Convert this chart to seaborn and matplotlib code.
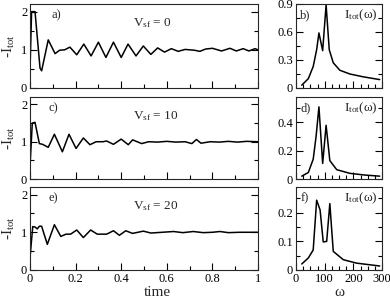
import matplotlib
matplotlib.use("Agg")
import matplotlib.pyplot as plt
from matplotlib.ticker import MultipleLocator
import pandas as pd
import seaborn as sns

# ---- time traces (-I_tot vs time) ----
t_a = [0, 0.007, 0.022, 0.044, 0.051, 0.08, 0.11, 0.13, 0.152, 0.175, 0.205, 0.236,
       0.268, 0.30, 0.333, 0.366, 0.40, 0.43, 0.465, 0.497, 0.53, 0.56, 0.59, 0.62,
       0.65, 0.68, 0.72, 0.745, 0.77, 0.80, 0.84, 0.877, 0.905, 0.935, 0.96, 0.987, 1.0]
i_a = [0.47, 2.0, 2.0, 0.52, 0.45, 1.26, 0.9, 0.99, 1.0, 1.07, 0.87, 1.15,
       0.84, 1.2, 0.8, 1.2, 0.8, 1.15, 0.84, 1.1, 0.88, 1.05, 0.94, 1.03,
       0.96, 1.01, 0.99, 0.96, 1.02, 1.04, 0.97, 1.04, 0.97, 1.03, 0.97, 1.03, 1.0]

t_c = [0, 0.01, 0.022, 0.041, 0.055, 0.08, 0.107, 0.142, 0.171, 0.202, 0.234, 0.263,
       0.29, 0.32, 0.336, 0.366, 0.40, 0.431, 0.45, 0.49, 0.52, 0.56, 0.60, 0.64,
       0.68, 0.71, 0.73, 0.75, 0.79, 0.83, 0.87, 0.91, 0.95, 1.0]
i_c = [0.33, 1.5, 1.52, 0.95, 0.93, 0.85, 1.2, 0.73, 1.2, 0.82, 1.1, 0.92,
       1.0, 1.0, 1.02, 0.93, 1.07, 0.92, 1.05, 0.95, 1.0, 0.99, 1.01, 0.99,
       1.0, 0.95, 1.06, 0.96, 1.0, 0.99, 1.01, 0.99, 1.01, 1.0]

t_e = [0, 0.012, 0.022, 0.032, 0.041, 0.051, 0.076, 0.107, 0.135, 0.158, 0.178, 0.205,
       0.234, 0.266, 0.295, 0.336, 0.366, 0.392, 0.42, 0.45, 0.497, 0.53, 0.58, 0.63,
       0.67, 0.716, 0.76, 0.80, 0.833, 0.87, 0.92, 0.96, 1.0]
i_e = [0.32, 1.15, 1.14, 1.09, 1.16, 1.16, 0.68, 1.2, 0.89, 0.95, 0.95, 1.06,
       0.86, 1.06, 0.95, 0.95, 1.04, 0.92, 1.04, 0.97, 1.03, 0.98, 1.0, 1.02,
       0.99, 1.02, 0.99, 1.0, 1.02, 0.99, 1.0, 1.0, 1.0]

# ---- spectra I_tot(omega) ----
w_b = [20, 43, 60, 72, 80, 93, 105, 116, 130, 153, 188, 234, 292]
s_b = [0.03, 0.10, 0.23, 0.41, 0.59, 0.40, 0.89, 0.41, 0.27, 0.19, 0.15, 0.12, 0.09]

w_d = [20, 43, 60, 70, 80, 93, 105, 118, 142, 188, 240, 292]
s_d = [0.02, 0.046, 0.14, 0.30, 0.51, 0.11, 0.38, 0.13, 0.066, 0.04, 0.028, 0.02]

w_f = [20, 43, 60, 72, 84, 95, 107, 118, 130, 165, 211, 292]
s_f = [0.021, 0.042, 0.07, 0.244, 0.21, 0.098, 0.10, 0.232, 0.065, 0.036, 0.024, 0.014]

panels_t = [("a)", "0", t_a, i_a), ("c)", "10", t_c, i_c), ("e)", "20", t_e, i_e)]
panels_w = [("b)", w_b, s_b, 0.9, 0.3), ("d)", w_d, s_d, 0.58, 0.2), ("f)", w_f, s_f, 0.29, 0.1)]

sns.set_theme(style="ticks")
plt.rcParams["font.family"] = ["Liberation Serif", "DejaVu Serif"]
plt.rcParams["mathtext.fontset"] = "custom"
plt.rcParams["mathtext.rm"] = "Liberation Serif"
plt.rcParams["mathtext.it"] = "Liberation Serif:italic"

fig = plt.figure(figsize=(3.9, 3.0), dpi=100)

# rows in pixel coords (top, bottom)
rows = [(4, 88), (97, 179), (187, 270)]
H = 300.0
W = 390.0

def style(ax):
    ax.tick_params(which="both", direction="in", right=True, top=False,
                   labelsize=9, width=0.8, pad=2, colors="black")
    ax.tick_params(which="major", length=5)
    ax.tick_params(which="minor", length=3)
    for sp in ax.spines.values():
        sp.set_linewidth(0.8)
        sp.set_visible(True)

for k, (top, bot) in enumerate(rows):
    y0 = 1 - bot / H
    h = (bot - top) / H

    lab, vsf, tt, ii = panels_t[k]
    ax = fig.add_axes([30 / W, y0, 228 / W, h])
    df = pd.DataFrame({"t": tt, "i": ii})
    sns.lineplot(data=df, x="t", y="i", ax=ax, color="black", lw=1.1, sort=False)
    ax.set_xlim(0, 1)
    ax.set_ylim(0, 2.2)
    ax.xaxis.set_major_locator(MultipleLocator(0.2))
    ax.xaxis.set_minor_locator(MultipleLocator(0.1))
    ax.yaxis.set_major_locator(MultipleLocator(1))
    ax.yaxis.set_minor_locator(MultipleLocator(0.5))
    style(ax)
    ax.set_ylabel(r"-I$_{\mathrm{tot}}$", fontsize=11, labelpad=3)
    ax.set_xlabel("")
    ax.text(0.08 if k else 0.095, 0.86, lab, transform=ax.transAxes, fontsize=9,
            va="center", ha="left")
    ax.text(0.45, 0.77, r"V$_{\mathrm{sf}}$ = " + vsf, transform=ax.transAxes,
            fontsize=9.5, va="center", ha="left")
    if k < 2:
        ax.set_xticklabels([])
    else:
        ax.set_xticks([0, 0.2, 0.4, 0.6, 0.8, 1.0])
        ax.set_xticklabels(["0", "0.2", "0.4", "0.6", "0.8", "1"])

    lab, ww, ss, ymax, ymaj = panels_w[k]
    ax = fig.add_axes([296 / W, y0, 86 / W, h])
    df = pd.DataFrame({"w": ww, "s": ss})
    sns.lineplot(data=df, x="w", y="s", ax=ax, color="black", lw=1.1, sort=False)
    ax.set_xlim(0, 300)
    ax.set_ylim(0, ymax)
    ax.xaxis.set_major_locator(MultipleLocator(100))
    ax.xaxis.set_minor_locator(MultipleLocator(25))
    ax.yaxis.set_major_locator(MultipleLocator(ymaj))
    ax.yaxis.set_minor_locator(MultipleLocator(ymaj / 2))
    style(ax)
    ax.set_ylabel("")
    ax.set_xlabel("")
    ax.yaxis.set_major_formatter(matplotlib.ticker.FuncFormatter(
        lambda v, p: "0" if abs(v) < 1e-9 else ("%.1f" % v)))
    ax.text(0.05, 0.86, lab, transform=ax.transAxes, fontsize=9,
            va="center", ha="left")
    ax.text(0.95, 0.86, r"I$_{\mathrm{tot}}$(ω)", transform=ax.transAxes,
            fontsize=9.5, va="center", ha="right")
    if k < 2:
        ax.set_xticklabels([])

# axis titles below the bottom row
fig.text(157 / W, 1 - 292 / H, "time", fontsize=11, ha="center", va="center")
fig.text(339 / W, 1 - 292 / H, "ω", fontsize=11, ha="center", va="center")

fig.savefig("out.png", dpi=100)
